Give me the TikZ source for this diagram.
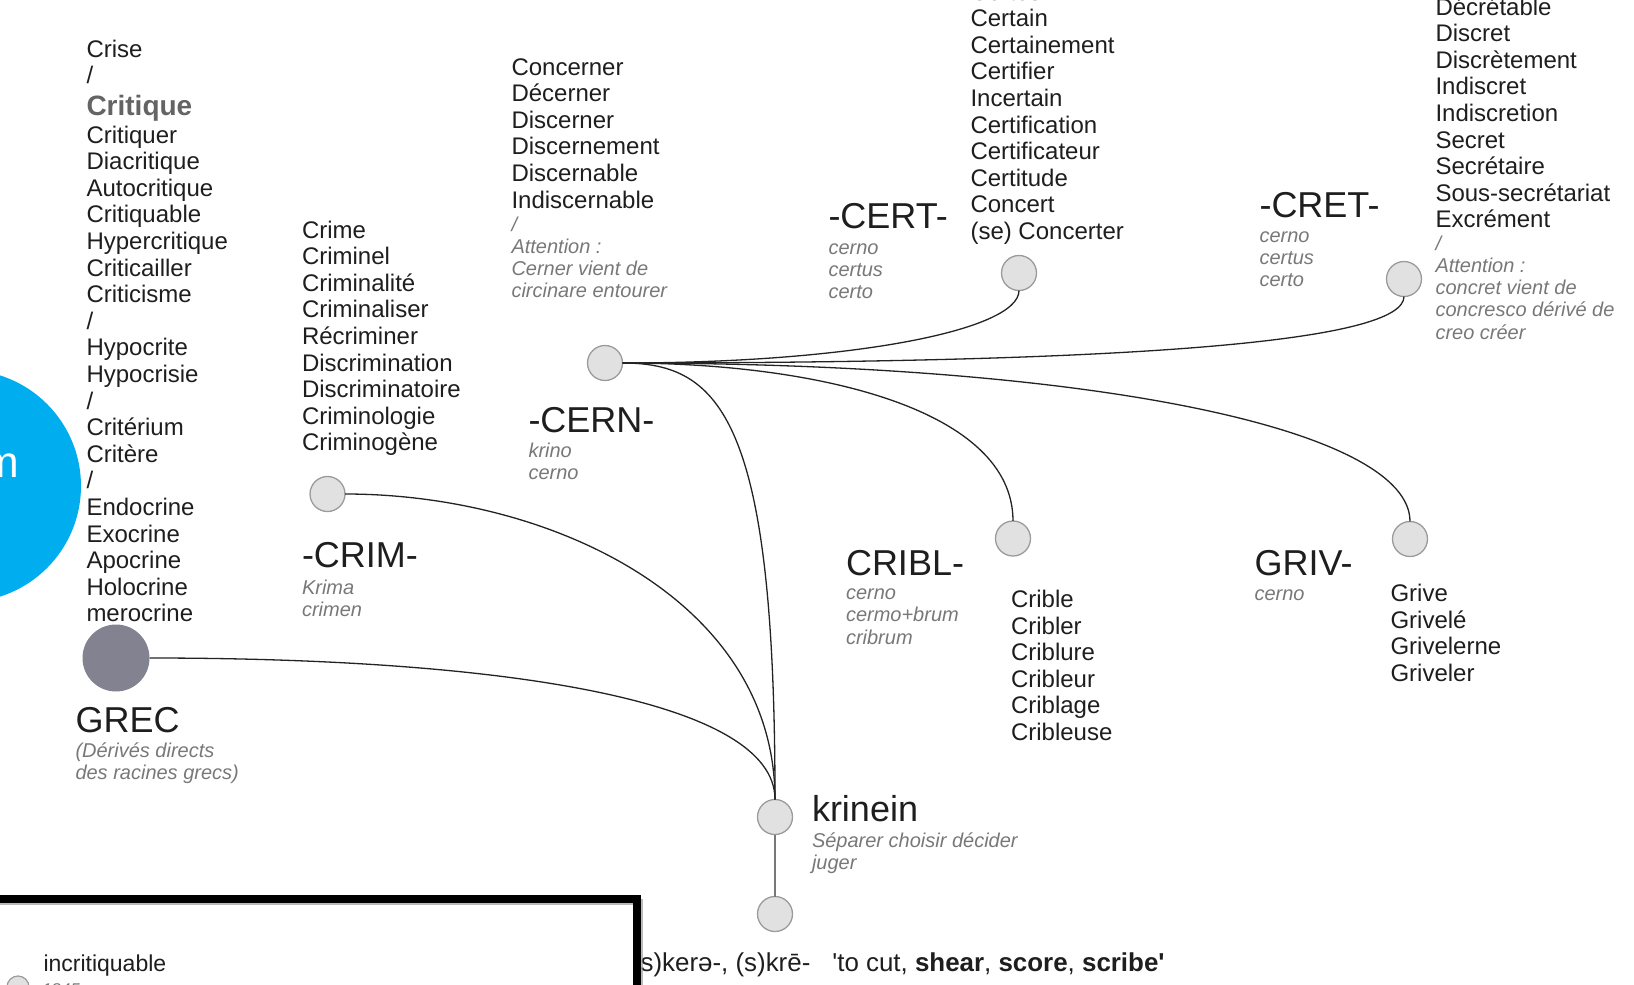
\documentclass[tikz,border=0pt]{standalone}
\usepackage{fontspec}
\setmainfont{Liberation Sans}
\definecolor{ink}{RGB}{30,30,30}
\definecolor{subgray}{RGB}{120,120,120}
\definecolor{critgray}{RGB}{100,100,100}
\definecolor{dotline}{RGB}{155,155,155}
\definecolor{dotfill}{RGB}{225,225,225}
\definecolor{linkc}{RGB}{35,35,35}
\definecolor{grecfill}{RGB}{131,130,145}
\definecolor{bluefill}{RGB}{0,174,239}
\begin{document}
\begin{tikzpicture}[x=1pt,y=-1pt,
  every node/.style={inner sep=0pt, outer sep=0pt},
  words/.style={anchor=north west, align=left, text=ink, font=\fontsize{24}{26.6}\selectfont},
  subs/.style={anchor=north west, align=left, text=subgray, font=\itshape\fontsize{20}{22.3}\selectfont},
  head/.style={anchor=base west, text=ink, font=\fontsize{36}{40}\selectfont},
  dot/.style={circle, draw=dotline, fill=dotfill, line width=1.3pt, minimum size=35pt},
  link/.style={draw=linkc, line width=1.3pt},
]
\useasboundingbox (0,0) rectangle (1634,985);

% big blue circle at left edge
\node[circle, fill=bluefill, minimum size=232pt] (blue) at (-35,486) {};
\node[anchor=base east, text=white, font=\fontsize{44}{48}\selectfont] (bluetxt) at (19,477) {m};

% ---------- word lists ----------
\node[words] (crise) at (86.5,38.4) {\strut Crise\\/};
\node[anchor=base west, text=critgray, font=\bfseries\fontsize{28}{30}\selectfont] (critique) at (86.5,115) {Critique};
\node[words] (leftlist) at (86.5,124.4) {\strut Critiquer\\Diacritique\\Autocritique\\Critiquable\\Hypercritique\\Criticailler\\Criticisme\\/\\Hypocrite\\Hypocrisie\\/\\Critérium\\Critère\\/\\Endocrine\\Exocrine\\Apocrine\\Holocrine\\merocrine};

\node[words] (crimelist) at (302,219.4) {\strut Crime\\Criminel\\Criminalité\\Criminaliser\\Récriminer\\Discrimination\\Discriminatoire\\Criminologie\\Criminogène};

\node[words] (cernlist) at (511.5,56.4) {\strut Concerner\\Décerner\\Discerner\\Discernement\\Discernable\\Indiscernable};
\node[subs] (cernnote) at (511.5,215.4) {\strut /\\Attention :\\Cerner vient de\\circinare entourer};

\node[words] (certlist) at (970.5,-18.5) {\strut Certes\\Certain\\Certainement\\Certifier\\Incertain\\Certification\\Certificateur\\Certitude\\Concert\\(se) Concerter};

\node[words] (cretlist) at (1435.5,-3.6) {\strut Décrétable\\Discret\\Discrètement\\Indiscret\\Indiscretion\\Secret\\Secrétaire\\Sous-secrétariat\\Excrément};
\node[subs] (cretnote) at (1435.5,234.4) {\strut /\\Attention :\\concret vient de\\concresco dérivé de\\creo créer};

% ---------- headings ----------
\node[head] (certhead) at (828.5,228) {-CERT-};
\node[subs] (certsub) at (828.5,238.4) {\strut cerno\\certus\\certo};

\node[head] (crethead) at (1259.5,217) {-CRET-};
\node[subs] (cretsub) at (1259.5,226.4) {\strut cerno\\certus\\certo};

\node[head] (cernhead) at (528.5,432) {-CERN-};
\node[subs] (cernsub) at (528.5,441.4) {\strut krino\\cerno};

\node[head] (crimhead) at (302,567) {-CRIM-};
\node[subs] (crimsub) at (302,578.4) {\strut Krima\\crimen};

\node[head] (cribhead) at (846,575) {CRIBL-};
\node[subs] (cribsub) at (846,583.9) {\strut cerno\\cermo+brum\\cribrum};
\node[words] (criblist) at (1011,588.9) {\strut Crible\\Cribler\\Criblure\\Cribleur\\Criblage\\Cribleuse};

\node[head] (grivhead) at (1254.5,575) {GRIV-};
\node[subs] (grivsub) at (1254.5,584.4) {\strut cerno};
\node[words] (grivlist) at (1390.5,582.9) {\strut Grive\\Grivelé\\Grivelerne\\Griveler};

\node[head] (krinhead) at (812,821.5) {krinein};
\node[subs] (krinsub) at (812,831.4) {\strut Séparer choisir décider\\juger};

\node[head] (grechead) at (75.5,732) {GREC};
\node[subs] (grecsub) at (75.5,741.4) {\strut (Dérivés directs\\des racines grecs)};

% ---------- circles ----------
\node[dot] (cern) at (605,363) {};
\node[dot] (cert) at (1019,273) {};
\node[dot] (cret) at (1404,279) {};
\node[dot] (crim) at (327.5,494) {};
\node[dot] (cribl) at (1013,538.5) {};
\node[dot] (griv) at (1410,539) {};
\node[dot] (krin) at (775,817) {};
\node[dot] (root) at (775,914) {};
\node[circle, fill=grecfill, minimum size=67pt] (grec) at (116,658) {};

% ---------- connectors ----------
\path[link] (cern.east) .. controls +(228,0) and +(0,40) .. (cert.south);
\path[link] (cern.east) .. controls +(528,0) and +(0,44) .. (cret.south);
\path[link] (cern.east) .. controls +(198,0) and +(0,-111) .. (cribl.north);
\path[link] (cern.east) .. controls +(478,0) and +(0,-91) .. (griv.north);
\path[link] (cern.east) .. controls +(98,0) and +(0,-380) .. (krin.north);
\path[link] (crim.east) .. controls +(205,0) and +(0,-200) .. (krin.north);
\path[link] (grec.east) .. controls +(351,0) and +(0,-100) .. (krin.north);
\draw[draw=subgray, line width=1.5pt] (krin.south) -- (root.north);

% ---------- bottom line of text ----------
\node[anchor=base west, text=ink, font=\fontsize{25.9}{28}\selectfont] (pie) at (632,971)
  {(s)kerə-, (s)krē-\hspace{22pt}\textquotesingle to cut, \textbf{shear}, \textbf{score}, \textbf{scribe\textquotesingle}};

% ---------- bottom-left box ----------
\coordinate (boxtl) at (-20,899);
\coordinate (boxtr) at (637,899);
\coordinate (boxbr) at (637,1010);
\fill[white] (-20,899) rectangle (637,1010);
\draw[black!45, line width=6pt, opacity=0.6] (-20,902) -- (640,902) -- (640,1010);
\draw[black, line width=8pt] (boxtl) -- (boxtr) -- (boxbr);
\node[anchor=base west, text=ink, font=\fontsize{23}{26}\selectfont] (incrit) at (43.5,971.7) {incritiquable};
\node[circle, draw=dotline, fill=dotfill, line width=1.2pt, minimum size=22pt] (smalldot) at (18,987) {};
\node[anchor=base west, text=subgray, font=\itshape\fontsize{17}{20}\selectfont] (year) at (42,995) {1845};
\end{tikzpicture}
\end{document}
